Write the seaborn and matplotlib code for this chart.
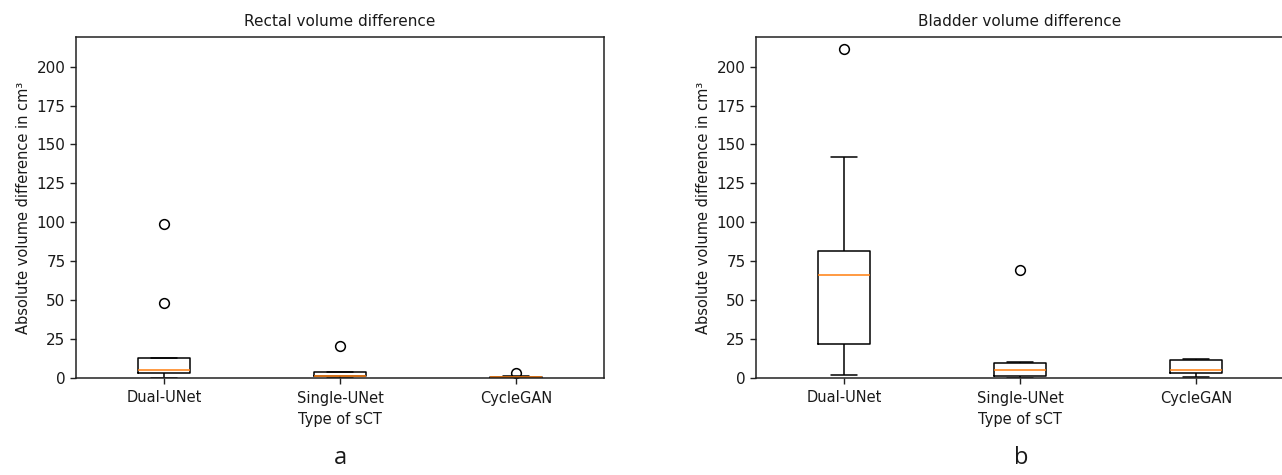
import numpy as np
import pandas as pd
import matplotlib
matplotlib.use("Agg")
import matplotlib.pyplot as plt
import seaborn as sns

# sCT types
methods = ["Dual-UNet", "Single-UNet", "CycleGAN"]

# absolute volume differences in cm^3
rectal_dual = [0.3, 2.0, 3.2, 4.5, 5.1, 9.0, 12.9, 48.0, 99.0]
rectal_single = [0.2, 0.8, 1.1, 1.3, 1.5, 2.5, 3.7, 3.9, 20.6]
rectal_cycle = [0.05, 0.15, 0.3, 0.4, 0.5, 0.7, 0.9, 1.3, 3.0]

bladder_dual = [2.2, 15.0, 21.7, 50.0, 66.0, 75.0, 81.5, 142.0, 211.0]
bladder_single = [0.1, 0.8, 1.3, 3.0, 5.1, 8.0, 9.4, 10.1, 69.3]
bladder_cycle = [0.8, 2.0, 3.0, 4.0, 5.1, 8.0, 11.4, 12.0, 12.4]

titles = ["Rectal volume difference", "Bladder volume difference"]
panel_letters = ["a", "b"]


def to_frame(groups):
    rows = []
    for name, vals in zip(methods, groups):
        rows += [(name, v) for v in vals]
    return pd.DataFrame(rows, columns=["method", "value"])


sns.set_style("ticks")
plt.rcParams["font.family"] = ["DejaVu Sans"]
plt.rcParams["font.size"] = 11
plt.rcParams["text.color"] = "#1a1a1a"
plt.rcParams["axes.labelcolor"] = "#1a1a1a"
plt.rcParams["xtick.color"] = "#1a1a1a"
plt.rcParams["ytick.color"] = "#1a1a1a"

fig = plt.figure(figsize=(12.82, 4.75), dpi=100)
ax1 = fig.add_axes([76 / 1282, 1 - 378 / 475, 528 / 1282, 341 / 475])
ax2 = fig.add_axes([756 / 1282, 1 - 378 / 475, 528 / 1282, 341 / 475])

datasets = [
    to_frame([rectal_dual, rectal_single, rectal_cycle]),
    to_frame([bladder_dual, bladder_single, bladder_cycle]),
]

for ax, df, title in zip([ax1, ax2], datasets, titles):
    sns.boxplot(
        data=df, x="method", y="value", order=methods, ax=ax,
        width=0.3, fill=False, color="black", linewidth=1.1, whis=1.5,
        boxprops=dict(color="black"),
        whiskerprops=dict(color="black"),
        capprops=dict(color="black"),
        medianprops=dict(color="#ff7f0e", linewidth=1.1),
        flierprops=dict(marker="o", markersize=7, markerfacecolor="none",
                        markeredgecolor="black", markeredgewidth=1.1),
    )
    ax.set_xlim(-0.5, 2.5)
    ax.set_ylim(0, 219)
    ax.set_yticks(np.arange(0, 201, 25))
    ax.set_title(title, fontsize=11, pad=8)
    ax.set_xlabel("Type of sCT", fontsize=10.5, labelpad=5)
    ax.set_ylabel("Absolute volume difference in cm³", fontsize=10.5)
    ax.tick_params(axis="x", labelsize=10.5, length=4, width=1, color="#222222", pad=5)
    ax.tick_params(axis="y", labelsize=11, length=4, width=1, color="#222222")
    for s in ax.spines.values():
        s.set_visible(True)
        s.set_linewidth(1.1)
        s.set_color("#222222")

fig.text(340 / 1282, 1 - 458 / 475, panel_letters[0], ha="center", va="center",
         fontsize=17, family=["Open Sans", "DejaVu Sans"])
fig.text(1021 / 1282, 1 - 458 / 475, panel_letters[1], ha="center", va="center",
         fontsize=17, family=["Open Sans", "DejaVu Sans"])

fig.savefig("out.png", dpi=100, facecolor="white")
